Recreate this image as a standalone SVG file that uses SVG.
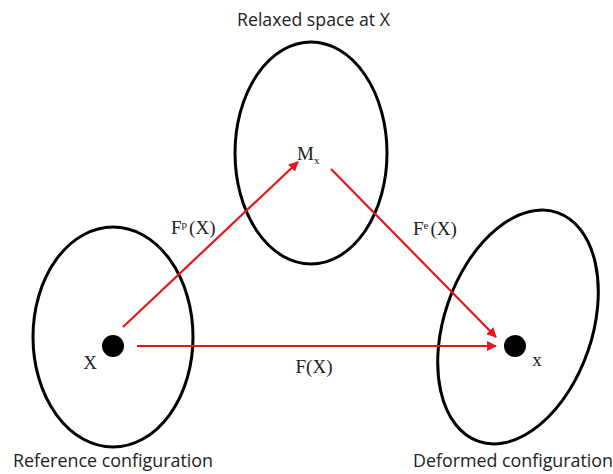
<svg xmlns="http://www.w3.org/2000/svg" width="613" height="474" viewBox="0 0 613 474">
  <style>
    .space { fill: none; stroke: #000; stroke-width: 3; }
    .point { fill: #000; }
    .map { stroke: #e3171b; stroke-width: 2.2; fill: none; }
    .cap { font-family: "Open Sans", "Liberation Sans", sans-serif; font-size: 17.5px; fill: #222; }
    .sym { font-family: "Liberation Serif", "Times New Roman", serif; font-size: 19px; fill: #222; }
    .sup { font-size: 11px; }
  </style>
  <defs>
    <marker id="head" viewBox="0 0 10 10" refX="9" refY="5" markerWidth="4.5" markerHeight="4.5" orient="auto" markerUnits="strokeWidth">
      <path d="M0,0 L10,5 L0,10 z" fill="#e3171b"/>
    </marker>
  </defs>

  <rect width="613" height="474" fill="#fff"/>

  <!-- relaxed (intermediate) configuration -->
  <g id="relaxed">
    <ellipse class="space" cx="311" cy="153" rx="76" ry="111"/>
    <text class="cap" x="237" y="26" textLength="153" lengthAdjust="spacingAndGlyphs">Relaxed space at X</text>
    <text class="sym" x="297" y="160">M<tspan class="sup" dy="4" font-size="13">x</tspan></text>
  </g>

  <!-- reference configuration -->
  <g id="reference">
    <ellipse class="space" cx="113" cy="337" rx="80" ry="110"/>
    <circle class="point" cx="113" cy="346" r="11"/>
    <text class="sym" x="90" y="369" text-anchor="middle">X</text>
    <text class="cap" x="13" y="467" textLength="200" lengthAdjust="spacingAndGlyphs">Reference configuration</text>
  </g>

  <!-- deformed configuration -->
  <g id="deformed">
    <ellipse class="space" cx="0" cy="0" rx="74" ry="121" transform="translate(518 327) rotate(19)"/>
    <circle class="point" cx="515" cy="346" r="11"/>
    <text class="sym" x="537" y="366" text-anchor="middle">x</text>
    <text class="cap" x="413" y="467" textLength="200" lengthAdjust="spacingAndGlyphs">Deformed configuration</text>
  </g>

  <!-- mappings between configurations -->
  <g id="connectors">
    <line class="map" x1="123" y1="327" x2="298" y2="162" marker-end="url(#head)"/>
    <line class="map" x1="331" y1="169" x2="496" y2="337" marker-end="url(#head)"/>
    <line class="map" x1="137" y1="346" x2="496" y2="346" marker-end="url(#head)"/>
    <text class="sym" x="171" y="234">F<tspan class="sup" dy="-6">p</tspan><tspan dy="6" dx="2">(X)</tspan></text>
    <text class="sym" x="413" y="235">F<tspan class="sup" dy="-6">e</tspan><tspan dy="6" dx="2">(X)</tspan></text>
    <text class="sym" x="314" y="373" text-anchor="middle">F(X)</text>
  </g>
</svg>
